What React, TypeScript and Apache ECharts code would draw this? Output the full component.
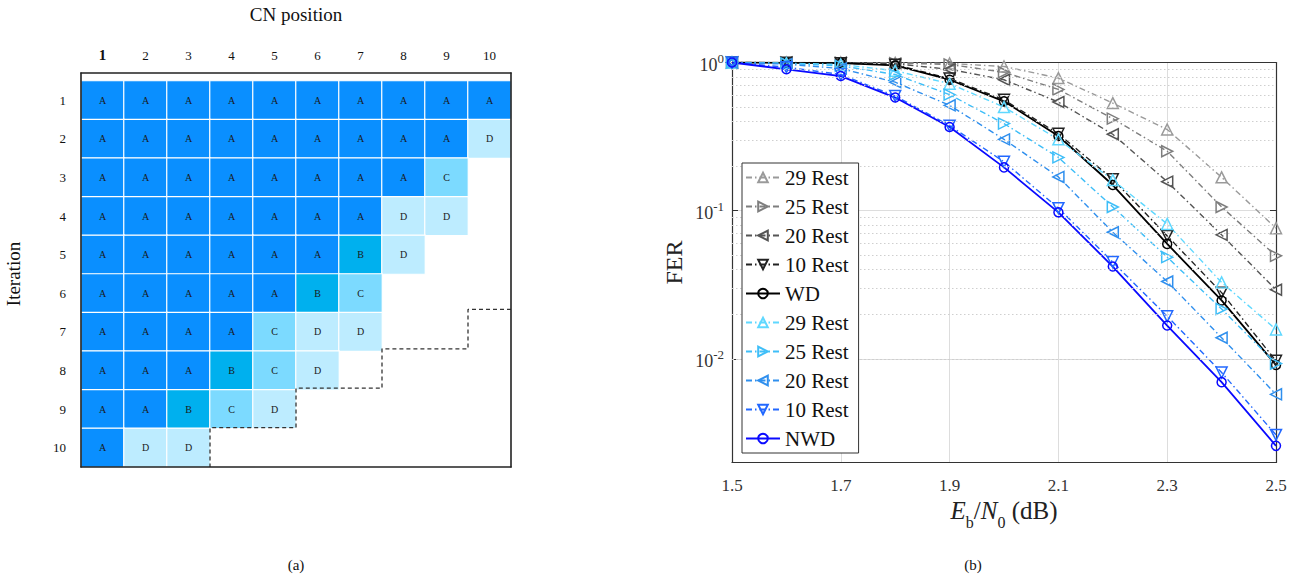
import React, { useEffect, useRef } from "react";
import * as echarts from "echarts";

// ---------- (a) schedule heatmap data ----------
const cnPositions = ["1", "2", "3", "4", "5", "6", "7", "8", "9", "10"];
const iterations = ["1", "2", "3", "4", "5", "6", "7", "8", "9", "10"];
const levelNames = ["A", "B", "C", "D"];
const levelColors = ["#0A8FFF", "#00B0EE", "#7CDAFF", "#BDECFF"];
const scheduleRows = [
  "AAAAAAAAAA",
  "AAAAAAAAAD",
  "AAAAAAAAC",
  "AAAAAAADD",
  "AAAAAABD",
  "AAAAABC",
  "AAAACDD",
  "AAABCD",
  "AABCD",
  "ADD",
];
// dashed staircase boundary (in cell-edge units)
const boundaryX = [10, 9, 9, 7, 7, 5, 5, 3, 3];
const boundaryY = [6, 6, 7, 7, 8, 8, 9, 9, 10];

// ---------- (b) FER curves ----------
const ebN0 = [1.5, 1.6, 1.7, 1.8, 1.9, 2.0, 2.1, 2.2, 2.3, 2.4, 2.5];
const gray29 = [1, 1, 1, 0.995, 0.985, 0.94, 0.785, 0.532, 0.353, 0.168, 0.0762];
const gray25 = [1, 1, 0.998, 0.99, 0.97, 0.86, 0.658, 0.418, 0.252, 0.106, 0.0496];
const gray20 = [1, 1, 0.995, 0.98, 0.9, 0.765, 0.541, 0.328, 0.157, 0.0687, 0.0293];
const black10 = [1, 0.998, 0.99, 0.965, 0.78, 0.56, 0.33, 0.163, 0.0676, 0.028, 0.0097];
const wd = [1, 0.995, 0.99, 0.955, 0.765, 0.547, 0.319, 0.149, 0.0597, 0.0248, 0.0091];
const light29 = [1, 0.99, 0.97, 0.88, 0.72, 0.5, 0.303, 0.161, 0.0814, 0.0328, 0.0158];
const light25 = [1, 0.985, 0.95, 0.83, 0.607, 0.387, 0.229, 0.106, 0.0486, 0.0217, 0.0093];
const blue20 = [1, 0.975, 0.91, 0.737, 0.514, 0.303, 0.169, 0.0716, 0.0333, 0.0139, 0.00577];
const blue10 = [1, 0.93, 0.83, 0.595, 0.375, 0.214, 0.104, 0.045, 0.0194, 0.0081, 0.00307];
const nwd = [1, 0.9, 0.81, 0.58, 0.367, 0.196, 0.0975, 0.042, 0.0168, 0.00697, 0.00259];

const minorGridValues = [
  0.003, 0.004, 0.005, 0.006, 0.007, 0.008, 0.009,
  0.02, 0.03, 0.04, 0.05, 0.06, 0.07, 0.08, 0.09,
  0.2, 0.3, 0.4, 0.5, 0.6, 0.7, 0.8, 0.9,
];

const SERIF = "Liberation Serif";

const UP = "path://M5,0L10,9L0,9Z";
const DOWN = "path://M0,0L10,0L5,9Z";
const LEFT = "path://M0,5L9,0L9,10Z";
const RIGHT = "path://M0,0L9,5L0,10Z";

const DASHDOT = [6, 3, 1.5, 3];

type Curve = { name: string; values: number[]; color: string; symbol: string; dash: boolean; width: number; size: number };

const curves: Curve[] = [
  { name: "29 Rest", values: gray29, color: "#9A9A9A", symbol: UP, dash: true, width: 1.4, size: 11 },
  { name: "25 Rest", values: gray25, color: "#7E7E7E", symbol: RIGHT, dash: true, width: 1.4, size: 11 },
  { name: "20 Rest", values: gray20, color: "#555555", symbol: LEFT, dash: true, width: 1.4, size: 11 },
  { name: "10 Rest", values: black10, color: "#222222", symbol: DOWN, dash: true, width: 1.4, size: 11 },
  { name: "WD", values: wd, color: "#000000", symbol: "circle", dash: false, width: 1.8, size: 9 },
  { name: "29 Rest ", values: light29, color: "#5FD8FF", symbol: UP, dash: true, width: 1.4, size: 11 },
  { name: "25 Rest ", values: light25, color: "#3EBEF8", symbol: RIGHT, dash: true, width: 1.4, size: 11 },
  { name: "20 Rest ", values: blue20, color: "#2F8FEE", symbol: LEFT, dash: true, width: 1.4, size: 11 },
  { name: "10 Rest ", values: blue10, color: "#2268FF", symbol: DOWN, dash: true, width: 1.4, size: 11 },
  { name: "NWD", values: nwd, color: "#0A0AFF", symbol: "circle", dash: false, width: 1.8, size: 9 },
];

export default function App() {
  const ref = useRef<HTMLDivElement>(null);

  useEffect(() => {
    if (!ref.current) return;
    const chart = echarts.init(ref.current, undefined, { renderer: "svg" });

    const heatData: number[][] = [];
    scheduleRows.forEach((row, r) => {
      row.split("").forEach((ch, c) => {
        const k = levelNames.indexOf(ch);
        if (k >= 0) heatData.push([c, r, k]);
      });
    });

    const frameAxis = (position: string, gridIndex: number) => ({
      type: "value",
      gridIndex,
      position,
      min: 0,
      max: 10,
      inverse: position === "left" || position === "right",
      axisLine: { show: true, onZero: false, lineStyle: { color: "#222", width: 1.6 } },
      axisTick: { show: false },
      axisLabel: { show: false },
      splitLine: { show: false },
      z: 10,
    });

    const ferSeries = curves.map((cv) => ({
      type: "line",
      name: cv.name,
      xAxisIndex: 3,
      yAxisIndex: 3,
      data: ebN0.map((x, i) => [x, cv.values[i]]),
      symbol: cv.symbol,
      symbolSize: cv.size,
      showAllSymbol: true,
      lineStyle: { color: cv.color, width: cv.width, type: cv.dash ? DASHDOT : "solid" },
      itemStyle: { color: "rgba(255,255,255,0)", borderColor: cv.color, borderWidth: 1.5 },
      emphasis: { disabled: true },
      z: 3,
    }));

    const option: any = {
      animation: false,
      textStyle: { fontFamily: SERIF },
      grid: [
        { left: 81, top: 73, width: 430, height: 394 },
        { left: 81, top: 73, width: 430, height: 394 },
        { left: 732, top: 62.5, width: 544, height: 400 },
      ],
      visualMap: {
        type: "piecewise",
        show: false,
        seriesIndex: 0,
        dimension: 2,
        pieces: levelColors.map((c, i) => ({ value: i, color: c })),
      },
      xAxis: [
        {
          type: "category",
          gridIndex: 0,
          position: "top",
          data: cnPositions,
          axisLine: { show: false },
          axisTick: { show: false },
          splitLine: { show: false },
          axisLabel: {
            interval: 0,
            fontFamily: SERIF,
            fontSize: 13,
            color: "#111",
            margin: 19,
            formatter: (v: string, i: number) => (i === 0 ? `{b|${v}}` : v),
            rich: {
              b: { fontFamily: SERIF, fontSize: 15, fontWeight: "bold", color: "#111" },
            },
          },
          name: "CN position",
          nameLocation: "middle",
          nameGap: 57,
          nameTextStyle: { fontFamily: SERIF, fontSize: 19, color: "#111" },
        },
        frameAxis("bottom", 1),
        frameAxis("top", 1),
        {
          type: "value",
          gridIndex: 2,
          position: "bottom",
          min: 1.5,
          max: 2.5,
          interval: 0.1,
          axisLine: { show: true, onZero: false, lineStyle: { color: "#333", width: 1.2 } },
          axisTick: { show: false },
          splitLine: { show: true, lineStyle: { color: ["#dddddd", "rgba(0,0,0,0)"], width: 1 } },
          axisLabel: {
            fontFamily: SERIF,
            fontSize: 17,
            color: "#333",
            margin: 14,
            formatter: (v: number) => (Math.round(v * 10) % 2 === 1 ? v.toFixed(1) : ""),
          },
          name: "{i|E}{sub|b}{n|/}{i|N}{sub|0}{n| (dB)}",
          nameLocation: "middle",
          nameGap: 31,
          nameTextStyle: {
            rich: {
              i: { fontFamily: SERIF, fontSize: 25, fontStyle: "italic", color: "#222", lineHeight: 32, verticalAlign: "top" },
              n: { fontFamily: SERIF, fontSize: 25, color: "#222", lineHeight: 32, verticalAlign: "top" },
              sub: { fontFamily: SERIF, fontSize: 16, color: "#222", lineHeight: 32, verticalAlign: "bottom" },
            },
          },
        },
        {
          type: "value",
          gridIndex: 2,
          position: "top",
          min: 1.5,
          max: 2.5,
          interval: 0.1,
          axisLine: { show: true, onZero: false, lineStyle: { color: "#333", width: 1.2 } },
          axisTick: { show: false },
          axisLabel: { show: false },
          splitLine: { show: false },
        },
      ],
      yAxis: [
        {
          type: "category",
          gridIndex: 0,
          inverse: true,
          data: iterations,
          axisLine: { show: false },
          axisTick: { show: false },
          splitLine: { show: false },
          axisLabel: { interval: 0, fontFamily: SERIF, fontSize: 13, color: "#111", margin: 15 },
          name: "Iteration",
          nameLocation: "middle",
          nameGap: 58,
          nameRotate: 90,
          nameTextStyle: { fontFamily: SERIF, fontSize: 19, color: "#111" },
        },
        frameAxis("left", 1),
        frameAxis("right", 1),
        {
          type: "log",
          gridIndex: 2,
          position: "left",
          min: 0.002,
          max: 1,
          logBase: 10,
          axisLine: { show: true, onZero: false, lineStyle: { color: "#333", width: 1.2 } },
          axisTick: { show: true, inside: true, length: 6, lineStyle: { color: "#333" } },
          splitLine: { show: true, lineStyle: { color: "#dddddd", width: 1 } },
          axisLabel: {
            margin: 8,
            formatter: (v: number) => {
              const l = Math.log10(v);
              const e = Math.round(l);
              if (Math.abs(l - e) > 1e-6) return "";
              return `{b|10}{s|${e}}`;
            },
            rich: {
              b: { fontFamily: SERIF, fontSize: 18, color: "#333", lineHeight: 22, verticalAlign: "bottom" },
              s: { fontFamily: SERIF, fontSize: 13, color: "#333", lineHeight: 22, verticalAlign: "top" },
            },
          },
          name: "FER",
          nameLocation: "middle",
          nameGap: 46,
          nameRotate: 90,
          nameTextStyle: { fontFamily: SERIF, fontSize: 24, color: "#222" },
        },
        {
          type: "log",
          gridIndex: 2,
          position: "right",
          min: 0.002,
          max: 1,
          logBase: 10,
          axisLine: { show: true, onZero: false, lineStyle: { color: "#333", width: 1.2 } },
          axisTick: { show: true, inside: true, length: 6, lineStyle: { color: "#333" } },
          splitLine: { show: false },
          axisLabel: { show: false },
        },
      ],
      legend: {
        orient: "vertical",
        left: 742,
        top: 163,
        data: curves.map((c) => c.name),
        formatter: (n: string) => n.trim(),
        selectedMode: false,
        backgroundColor: "#ffffff",
        borderColor: "#333",
        borderWidth: 1,
        borderRadius: 0,
        padding: [4, 10, 4, 3],
        itemWidth: 34,
        itemHeight: 12,
        itemGap: 8,
        textStyle: { fontFamily: SERIF, fontSize: 21, color: "#111" },
        z: 20,
      },
      graphic: [
        { type: "text", x: 296, y: 557, style: { text: "(a)", fontFamily: SERIF, fontSize: 15, fill: "#111", textAlign: "center" } },
        { type: "text", x: 973, y: 557, style: { text: "(b)", fontFamily: SERIF, fontSize: 15, fill: "#111", textAlign: "center" } },
      ],
      series: [
        {
          type: "heatmap",
          xAxisIndex: 0,
          yAxisIndex: 0,
          data: heatData,
          label: {
            show: true,
            formatter: (p: any) => levelNames[p.value[2]],
            fontFamily: SERIF,
            fontSize: 10,
            color: "#1a1a1a",
          },
          itemStyle: { borderColor: "#ffffff", borderWidth: 1.2 },
          emphasis: { disabled: true },
        },
        {
          type: "line",
          xAxisIndex: 1,
          yAxisIndex: 1,
          data: boundaryX.map((x, i) => [x, boundaryY[i]]),
          symbol: "none",
          lineStyle: { color: "#333", width: 1.3, type: [4, 3] },
          z: 5,
          silent: true,
        },
        {
          type: "line",
          xAxisIndex: 3,
          yAxisIndex: 3,
          data: [],
          silent: true,
          z: 1,
          markLine: {
            silent: true,
            symbol: "none",
            label: { show: false },
            lineStyle: { color: "#cfcfcf", type: [1.5, 2.5], width: 1 },
            data: minorGridValues.map((v) => ({ yAxis: v })),
          },
        },
        ...ferSeries,
      ],
    };

    chart.setOption(option);
    return () => chart.dispose();
  }, []);

  return (
    <div
      ref={ref}
      style={{ position: "absolute", left: 0, top: 0, width: 1304, height: 581, background: "#fff" }}
    />
  );
}
